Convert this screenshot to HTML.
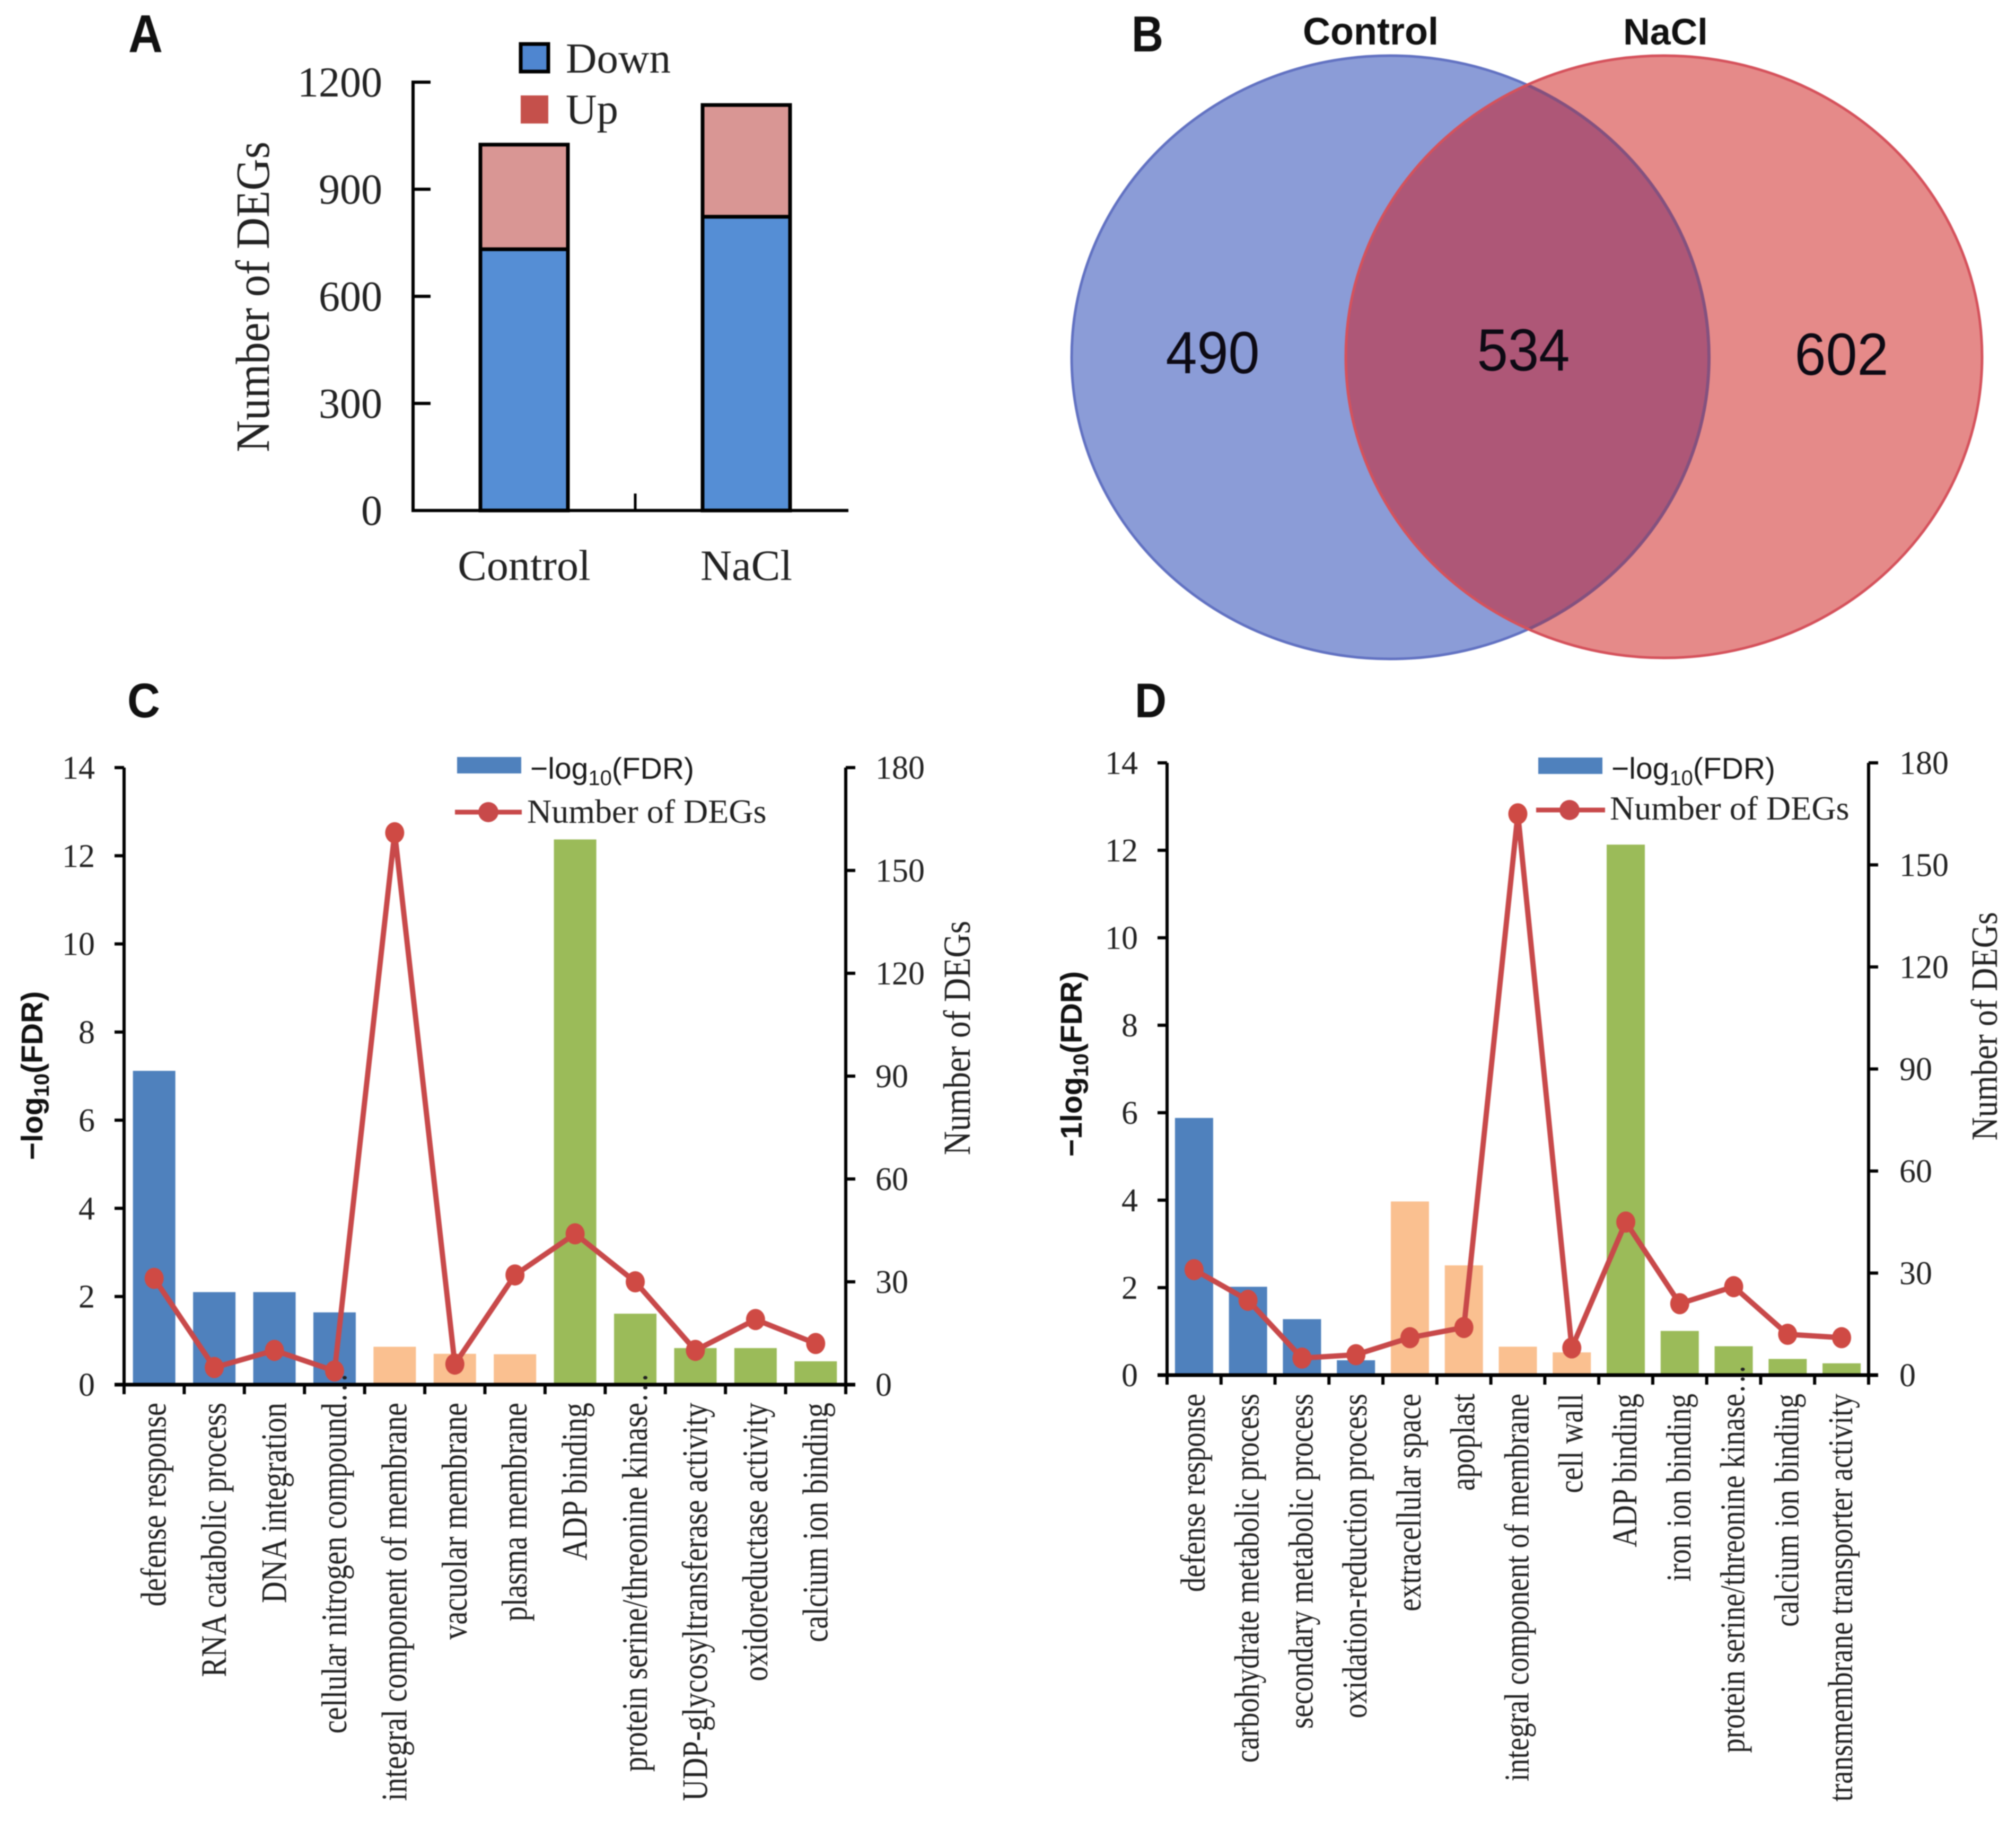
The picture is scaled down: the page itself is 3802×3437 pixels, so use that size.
<!DOCTYPE html>
<html lang="en">
<head>
<meta charset="utf-8">
<title>DEG summary figure</title>
<style>
html,body{margin:0;padding:0;background:#fff;width:3802px;height:3437px;overflow:hidden}
svg{display:block;filter:blur(1px)}
.serif{font-family:"Liberation Serif",serif;fill:#222}
.sans{font-family:"Liberation Sans",sans-serif;fill:#1a1a1a}
.venn-count{font-family:"Liberation Sans",sans-serif;fill:#0d0a14}
.bold{font-family:"Liberation Sans",sans-serif;font-weight:bold;fill:#111}
</style>
</head>
<body>
<svg id="figure" xmlns="http://www.w3.org/2000/svg" width="3802" height="3437" viewBox="0 0 3802 3437">
  <defs>
    <clipPath id="left-venn-clip"><ellipse cx="2622" cy="674" rx="601" ry="569"/></clipPath>
    <clipPath id="right-venn-clip"><ellipse cx="3138" cy="673" rx="600" ry="568"/></clipPath>
  </defs>
  <rect width="3802" height="3437" fill="#fff"/>

  <text class="bold" x="242" y="98" font-size="100" textLength="65" lengthAdjust="spacingAndGlyphs">A</text>
  <text class="bold" x="2134" y="97" font-size="96" textLength="60" lengthAdjust="spacingAndGlyphs">B</text>
  <text class="bold" x="240" y="1353" font-size="92" textLength="62" lengthAdjust="spacingAndGlyphs">C</text>
  <text class="bold" x="2140" y="1353" font-size="92" textLength="60" lengthAdjust="spacingAndGlyphs">D</text>

  <g id="panel-a">
    <text class="serif" font-size="83" text-anchor="middle" textLength="586" lengthAdjust="spacingAndGlyphs" transform="translate(507,560) rotate(-90) scale(1,1.09)">Number of DEGs</text>
    <rect x="982" y="83" width="52" height="52" fill="#4f86d0" stroke="#000" stroke-width="7"/>
    <text class="serif" x="1067" y="137" font-size="81">Down</text>
    <rect x="982" y="180" width="52" height="53" fill="#c5504b"/>
    <text class="serif" x="1067" y="233" font-size="81">Up</text>
  </g>

  <g id="panel-b">
    <ellipse cx="2622" cy="674" rx="601" ry="569" fill="#8b9cd7"/>
    <ellipse cx="3138" cy="673" rx="600" ry="568" fill="#e58a89"/>
    <ellipse cx="3138" cy="673" rx="600" ry="568" fill="#ae5777" clip-path="url(#left-venn-clip)"/>
    <ellipse cx="2622" cy="674" rx="601" ry="569" fill="none" stroke="#6272c2" stroke-width="5"/>
    <ellipse cx="2622" cy="674" rx="601" ry="569" fill="none" stroke="#84517f" stroke-width="6" clip-path="url(#right-venn-clip)"/>
    <ellipse cx="3138" cy="673" rx="600" ry="568" fill="none" stroke="#d5525c" stroke-width="5"/>
    <text class="bold" x="2585" y="84" text-anchor="middle" font-size="72">Control</text>
    <text class="bold" x="3141" y="84" text-anchor="middle" font-size="70">NaCl</text>
    <text class="venn-count" x="2287" y="704" text-anchor="middle" font-size="112" textLength="177" lengthAdjust="spacingAndGlyphs">490</text>
    <text class="venn-count" x="2873" y="699" text-anchor="middle" font-size="112" textLength="175" lengthAdjust="spacingAndGlyphs">534</text>
    <text class="venn-count" x="3473" y="707" text-anchor="middle" font-size="112" textLength="177" lengthAdjust="spacingAndGlyphs">602</text>
  </g>

  <g id="panel-c">
    <text class="bold" font-size="57" text-anchor="middle" transform="translate(80,2029) rotate(-90)">−log<tspan font-size="40" dy="12">10</tspan><tspan dy="-12">(FDR)</tspan></text>
    <text class="serif" font-size="63" text-anchor="middle" textLength="442" lengthAdjust="spacingAndGlyphs" transform="translate(1829,1958) rotate(-90) scale(1,1.15)">Number of DEGs</text>
    <rect x="862" y="1428" width="121" height="31" fill="#4f81bd"/>
    <text class="sans" x="1000" y="1469" font-size="57">−log<tspan font-size="40" dy="12">10</tspan><tspan dy="-12">(FDR)</tspan></text>
    <line x1="858" y1="1532" x2="984" y2="1532" stroke="#c8494a" stroke-width="9"/>
    <circle cx="921" cy="1532" r="19" fill="#c8494a"/>
    <text class="serif" x="994" y="1552" font-size="64">Number of DEGs</text>
  </g>

  <g id="panel-d">
    <text class="bold" font-size="57" text-anchor="middle" transform="translate(2040,2007) rotate(-90)">−1log<tspan font-size="40" dy="12">10</tspan><tspan dy="-12">(FDR)</tspan></text>
    <text class="serif" font-size="61" text-anchor="middle" textLength="431" lengthAdjust="spacingAndGlyphs" transform="translate(3766,1936) rotate(-90) scale(1,1.15)">Number of DEGs</text>
    <rect x="2901" y="1429" width="121" height="31" fill="#4f81bd"/>
    <text class="sans" x="3039" y="1469" font-size="57">−log<tspan font-size="40" dy="12">10</tspan><tspan dy="-12">(FDR)</tspan></text>
    <line x1="2897" y1="1528" x2="3027" y2="1528" stroke="#c8494a" stroke-width="9"/>
    <circle cx="2960" cy="1528" r="19" fill="#c8494a"/>
    <text class="serif" x="3036" y="1546" font-size="64">Number of DEGs</text>
  </g>
</svg>

<script>
// Panel A data
const panelAGroups = ['Control', 'NaCl'];
const panelADown = [732, 823];
const panelAUp = [293, 313];
const panelATicks = [0, 300, 600, 900, 1200];

// Shared axis ticks for panels C and D
const fdrTicks = [0, 2, 4, 6, 8, 10, 12, 14];
const degTicks = [0, 30, 60, 90, 120, 150, 180];

// Panel C data
const panelCCategories = ['defense response', 'RNA catabolic process', 'DNA integration', 'cellular nitrogen compound…', 'integral component of membrane', 'vacuolar membrane', 'plasma membrane', 'ADP binding', 'protein serine/threonine kinase…', 'UDP-glycosyltransferase activity', 'oxidoreductase activity', 'calcium ion binding'];
const panelCOntology = ['BP', 'BP', 'BP', 'BP', 'CC', 'CC', 'CC', 'MF', 'MF', 'MF', 'MF', 'MF'];
const panelCFdr = [7.12, 2.10, 2.10, 1.64, 0.86, 0.70, 0.69, 12.37, 1.61, 0.83, 0.83, 0.53];
const panelCDegs = [31, 5, 10, 4, 161, 6, 32, 44, 30, 10, 19, 12];

// Panel D data
const panelDCategories = ['defense response', 'carbohydrate metabolic process', 'secondary metabolic process', 'oxidation-reduction process', 'extracellular space', 'apoplast', 'integral component of membrane', 'cell wall', 'ADP binding', 'iron ion binding', 'protein serine/threonine kinase…', 'calcium ion binding', 'transmembrane transporter activity'];
const panelDOntology = ['BP', 'BP', 'BP', 'BP', 'CC', 'CC', 'CC', 'CC', 'MF', 'MF', 'MF', 'MF', 'MF'];
const panelDFdr = [5.88, 2.02, 1.28, 0.34, 3.97, 2.51, 0.65, 0.52, 12.13, 1.01, 0.66, 0.37, 0.27];
const panelDDegs = [31, 22, 5, 6, 11, 14, 165, 8, 45, 21, 26, 12, 11];

const ontologyColor = { BP: '#4f81bd', CC: '#fac090', MF: '#9bbb59' };
const NS = 'http://www.w3.org/2000/svg';

function make(parent, tag, attrs, content) {
  const node = document.createElementNS(NS, tag);
  for (const key in attrs) node.setAttribute(key, attrs[key]);
  if (content !== undefined) node.textContent = content;
  parent.appendChild(node);
  return node;
}

function drawPanelA() {
  const root = document.getElementById('panel-a');
  const axisX = 779, baseY = 963, topY = 155, axisEnd = 1600;
  const bandWidth = 419, barWidth = 165;
  const y = v => baseY - v / 1200 * (baseY - topY);
  const x = i => axisX + bandWidth * (i + 0.5);

  panelAGroups.forEach((group, i) => {
    const downTop = y(panelADown[i]);
    const upTop = y(panelADown[i] + panelAUp[i]);
    const downBar = make(root, 'rect', { x: x(i) - barWidth / 2, y: downTop, width: barWidth, height: baseY - downTop, fill: '#558ed5', stroke: '#000', 'stroke-width': 7 });
    
    
    const upBar = make(root, 'rect', { x: x(i) - barWidth / 2, y: upTop, width: barWidth, height: downTop - upTop, fill: '#d99694', stroke: '#000', 'stroke-width': 7 });
    
    
    const label = make(root, 'text', { class: 'serif', x: x(i), y: 1094, 'text-anchor': 'middle', 'font-size': 82 }, group);
    
    
  });

  const yAxis = make(root, 'line', { x1: axisX, y1: topY - 3, x2: axisX, y2: baseY + 3, stroke: '#000', 'stroke-width': 6 });
  
  
  const xAxis = make(root, 'line', { x1: axisX - 3, y1: baseY, x2: axisEnd, y2: baseY, stroke: '#000', 'stroke-width': 6 });
  
  
  const midTick = make(root, 'line', { x1: axisX + bandWidth, y1: baseY - 32, x2: axisX + bandWidth, y2: baseY, stroke: '#000', 'stroke-width': 5 });
  
  

  panelATicks.forEach(t => {
    if (t > 0) {
      const tick = make(root, 'line', { x1: axisX, y1: y(t), x2: axisX + 33, y2: y(t), stroke: '#000', 'stroke-width': 6 });
      
      
    }
    const label = make(root, 'text', { class: 'serif', x: 721, y: y(t) + 27, 'text-anchor': 'end', 'font-size': 80 }, t);
    
    
  });
}

function drawEnrichment(rootId, prefix, categories, ontology, fdr, degs, box) {
  const root = document.getElementById(rootId);
  const n = categories.length;
  const band = (box.right - box.left) / n;
  const x = i => box.left + band * (i + 0.5);
  const yFdr = v => box.base - v / 14 * (box.base - box.top);
  const yDeg = v => box.base - v / 180 * (box.base - box.top);

  categories.forEach((name, i) => {
    const bar = make(root, 'rect', { x: x(i) - box.barWidth / 2, y: yFdr(fdr[i]), width: box.barWidth, height: box.base - yFdr(fdr[i]), fill: ontologyColor[ontology[i]] });
    
    
  });

  const leftAxis = make(root, 'line', { x1: box.left, y1: box.top, x2: box.left, y2: box.base, stroke: '#000', 'stroke-width': 6 });
  
  
  const rightAxis = make(root, 'line', { x1: box.right, y1: box.top, x2: box.right, y2: box.base, stroke: '#000', 'stroke-width': 6 });
  
  
  const baseAxis = make(root, 'line', { x1: box.left - 18, y1: box.base, x2: box.right + 18, y2: box.base, stroke: '#000', 'stroke-width': 7 });
  
  

  fdrTicks.forEach(t => {
    const tick = make(root, 'line', { x1: box.left - 18, y1: yFdr(t), x2: box.left, y2: yFdr(t), stroke: '#000', 'stroke-width': 6 });
    
    
    const label = make(root, 'text', { class: 'serif', x: box.leftLabelX, y: yFdr(t) + 21, 'text-anchor': 'end', 'font-size': 62 }, t);
    
    
  });

  degTicks.forEach(t => {
    const tick = make(root, 'line', { x1: box.right, y1: yDeg(t), x2: box.right + 18, y2: yDeg(t), stroke: '#000', 'stroke-width': 6 });
    
    
    const label = make(root, 'text', { class: 'serif', x: box.rightLabelX, y: yDeg(t) + 21, 'font-size': 62 }, t);
    
    
  });

  for (let i = 0; i <= n; i++) {
    const tx = box.left + band * i;
    const tick = make(root, 'line', { x1: tx, y1: box.base, x2: tx, y2: box.base + 18, stroke: '#000', 'stroke-width': 6 });
    
    
  }

  categories.forEach((name, i) => {
    const truncated = name.endsWith('…');
    const endY = box.labelTop - (truncated ? box.labelSize : 0);
    const label = make(root, 'text', { class: 'serif', 'font-size': box.labelSize, 'text-anchor': 'end', transform: 'translate(' + (x(i) + box.labelShift) + ',' + endY + ') rotate(-90) scale(1,1.2)' }, name);
    
    
  });

  const points = degs.map((v, i) => x(i) + ',' + yDeg(v)).join(' ');
  const line = make(root, 'polyline', { points: points, fill: 'none', stroke: '#c8494a', 'stroke-width': 10, 'stroke-linejoin': 'round' });
  
  

  degs.forEach((v, i) => {
    const point = make(root, 'ellipse', { cx: x(i), cy: yDeg(v), rx: 18, ry: 20, fill: '#cf4a44' });
    
    
  });
}

drawPanelA();
drawEnrichment('panel-c', 'panel-c', panelCCategories, panelCOntology, panelCFdr, panelCDegs, {
  left: 234, right: 1595, top: 1448, base: 2612, barWidth: 80,
  leftLabelX: 179, rightLabelX: 1651, labelTop: 2646, labelSize: 56.5, labelShift: 22
});
drawEnrichment('panel-d', 'panel-d', panelDCategories, panelDOntology, panelDFdr, panelDDegs, {
  left: 2201, right: 3524, top: 1439, base: 2594, barWidth: 72,
  leftLabelX: 2146, rightLabelX: 3582, labelTop: 2629, labelSize: 55, labelShift: 20
});
</script>
</body>
</html>
